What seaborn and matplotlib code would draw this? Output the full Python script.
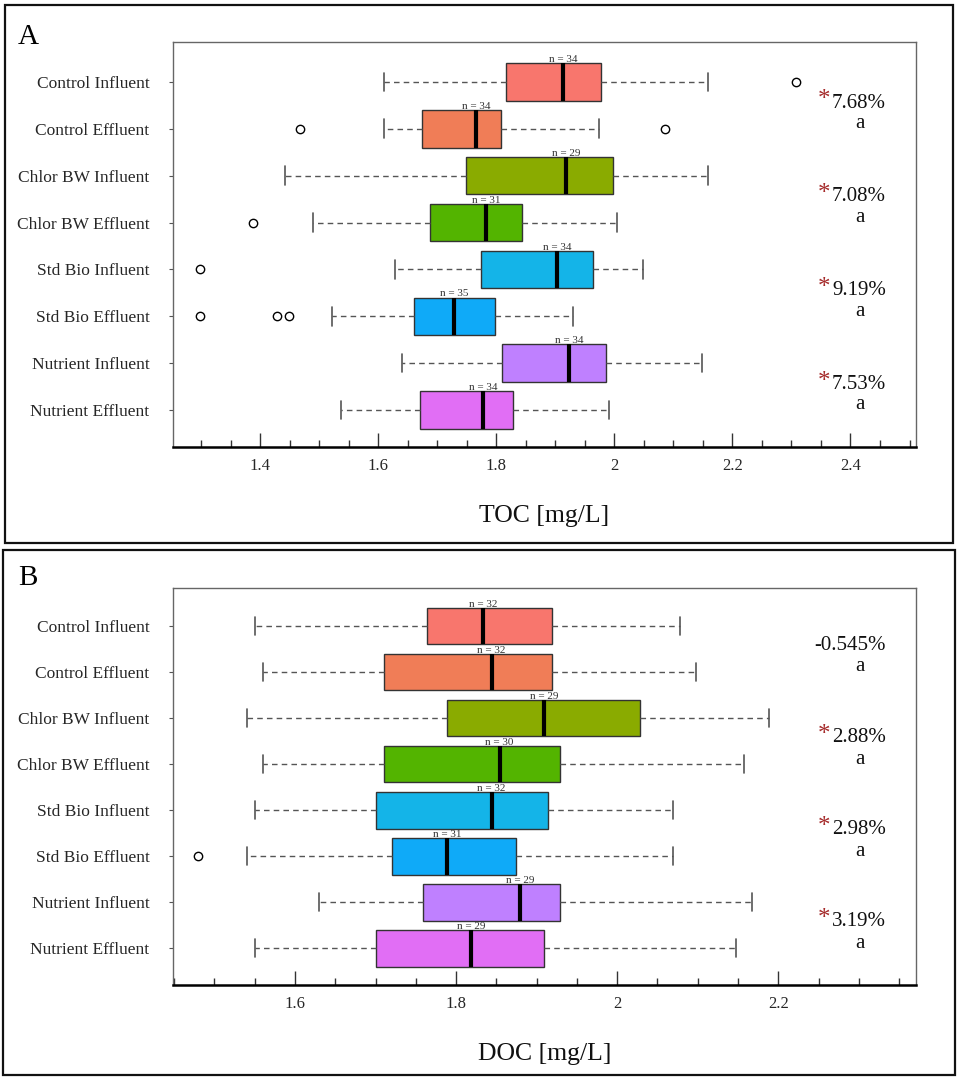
import numpy as np
import pandas as pd
import matplotlib
matplotlib.use("Agg")
import matplotlib.pyplot as plt
from matplotlib.patches import Rectangle
from matplotlib.ticker import MultipleLocator, FormatStrFormatter
import seaborn as sns

# ---------------- data ----------------
categories = ["Control Influent", "Control Effluent", "Chlor BW Influent", "Chlor BW Effluent",
              "Std Bio Influent", "Std Bio Effluent", "Nutrient Influent", "Nutrient Effluent"]
colors = ["#F8766D", "#F07D57", "#8AAB00", "#53B400", "#14B4E8", "#0FAAF8", "#BF80FF", "#E16EF5"]

toc_low = [1.609, 1.609, 1.441, 1.489, 1.628, 1.522, 1.640, 1.537]
toc_q1 = [1.816, 1.674, 1.748, 1.688, 1.774, 1.661, 1.810, 1.671]
toc_med = [1.913, 1.766, 1.918, 1.782, 1.903, 1.728, 1.923, 1.778]
toc_q3 = [1.978, 1.807, 1.998, 1.843, 1.964, 1.797, 1.986, 1.828]
toc_high = [2.158, 1.974, 2.158, 2.004, 2.048, 1.929, 2.148, 1.990]
toc_out = [[2.307], [1.468, 2.085], [], [1.387], [1.298], [1.298, 1.428, 1.448], [], []]
toc_n = [34, 34, 29, 31, 34, 35, 34, 34]
toc_pct = ["7.68%", "7.08%", "9.19%", "7.53%"]
toc_sig = [True, True, True, True]

doc_low = [1.550, 1.560, 1.540, 1.560, 1.550, 1.540, 1.630, 1.550]
doc_q1 = [1.764, 1.710, 1.789, 1.710, 1.700, 1.720, 1.759, 1.700]
doc_med = [1.834, 1.844, 1.909, 1.854, 1.844, 1.789, 1.879, 1.819]
doc_q3 = [1.919, 1.919, 2.028, 1.929, 1.914, 1.874, 1.929, 1.909]
doc_high = [2.078, 2.098, 2.188, 2.158, 2.069, 2.069, 2.168, 2.148]
doc_out = [[], [], [], [], [], [1.480], [], []]
doc_n = [32, 32, 29, 30, 32, 31, 29, 29]
doc_pct = ["-0.545%", "2.88%", "2.98%", "3.19%"]
doc_sig = [False, True, True, True]

toc_ticks = ["1.4", "1.6", "1.8", "2", "2.2", "2.4"]
doc_ticks = ["1.6", "1.8", "2", "2.2"]


def build_table(low, q1, med, q3, high, outs):
    """Table whose quartiles / whiskers reproduce the read five-number summaries."""
    S = 20
    rows = []
    for c, lo, a, m, b, hi, o in zip(categories, low, q1, med, q3, high, outs):
        lo_out = sorted(v for v in o if v < a)
        hi_out = sorted(v for v in o if v > b)
        below = lo_out + [lo] + [a] * (S - 1 - len(lo_out))
        above = [b] * (S - 1 - len(hi_out)) + [hi] + hi_out
        for v in below + [m] + above:
            rows.append((c, v))
    return pd.DataFrame(rows, columns=["cat", "value"])


sns.set_style("ticks")
plt.rcParams["font.family"] = ["Liberation Serif", "DejaVu Serif"]
plt.rcParams["mathtext.fontset"] = "stix"

W, H = 957, 1078
fig = plt.figure(figsize=(W / 100, H / 100), dpi=100)

# panel frames
for (x0, y0, x1, y1) in [(5, 5, 953, 543), (3, 550, 955, 1075)]:
    fig.patches.append(Rectangle((x0 / W, 1 - y1 / H), (x1 - x0) / W, (y1 - y0) / H,
                                 transform=fig.transFigure, fill=False,
                                 edgecolor="#111111", linewidth=1.6))

panels = [
    dict(letter="A", box=(173, 42, 916, 447), xlim=(1.252, 2.511), ylim=(7.79, -0.853),
         data=(toc_low, toc_q1, toc_med, toc_q3, toc_high, toc_out), n=toc_n,
         pct=toc_pct, sig=toc_sig, xlabel="TOC [mg/L]", ticks=toc_ticks,
         letter_y=37, ypct=0.45, ya=0.89),
    dict(letter="B", box=(173, 588, 916, 985), xlim=(1.4485, 2.371), ylim=(7.80, -0.826),
         data=(doc_low, doc_q1, doc_med, doc_q3, doc_high, doc_out), n=doc_n,
         pct=doc_pct, sig=doc_sig, xlabel="DOC [mg/L]", ticks=doc_ticks,
         letter_y=578, ypct=0.42, ya=0.89),
]

for p in panels:
    x0, y0, x1, y1 = p["box"]
    ax = fig.add_axes([x0 / W, 1 - y1 / H, (x1 - x0) / W, (y1 - y0) / H])
    df = build_table(*p["data"])
    sns.boxplot(data=df, x="value", y="cat", hue="cat", order=categories, hue_order=categories,
                palette=colors, saturation=1, orient="h", width=0.8, whis=1.5, dodge=False,
                legend=False, linecolor="#333333", linewidth=1.0, fliersize=6, ax=ax,
                medianprops=dict(color="black", linewidth=3),
                whiskerprops=dict(color="#555555", linestyle=(0, (4, 3)), linewidth=1.0),
                capprops=dict(color="#555555", linewidth=1.2),
                flierprops=dict(marker="o", markerfacecolor="white", markeredgecolor="black",
                                markeredgewidth=1.0))
    ax.set_xlim(*p["xlim"])
    ax.set_ylim(*p["ylim"])
    ax.set_ylabel("")
    ax.set_xlabel(p["xlabel"], fontsize=18.5, labelpad=22, color="#111111")
    ax.xaxis.set_major_locator(MultipleLocator(0.2))
    ax.xaxis.set_minor_locator(MultipleLocator(0.05))
    ax.xaxis.set_major_formatter(FormatStrFormatter("%g"))
    ax.tick_params(axis="x", which="major", direction="in", length=10, width=1.0,
                   color="#333333", labelsize=12, pad=8)
    ax.tick_params(axis="x", which="minor", direction="in", length=5, width=1.0, color="#333333")
    ax.tick_params(axis="y", direction="out", length=3, width=0.8, color="#555555",
                   labelsize=12.5, pad=14)
    for side in ["left", "top", "right"]:
        ax.spines[side].set_color("#666666")
        ax.spines[side].set_linewidth(1.0)
    ax.spines["bottom"].set_color("black")
    ax.spines["bottom"].set_linewidth(1.8)

    # sample sizes above each box
    for i, (m, n) in enumerate(zip(p["data"][2], p["n"])):
        ax.text(m, i - 0.38, f"n = {n}", ha="center", va="bottom", fontsize=8, color="#333333")

    # percent change annotations
    tr = ax.get_yaxis_transform()
    for k, (pct, sig) in enumerate(zip(p["pct"], p["sig"])):
        t = ax.text(0.9596, 2 * k + p["ypct"], pct, transform=tr, ha="right", va="center",
                    fontsize=15, color="#111111")
        ax.text(0.9246, 2 * k + p["ya"], "a", transform=tr, ha="center", va="center",
                fontsize=15, color="#111111")
        if sig:
            ax.annotate("*", xy=(0, 1), xycoords=t, xytext=(-1, 3), textcoords="offset points",
                        ha="right", va="top", fontsize=18, color="#A52A2A")

    fig.text(18 / W, 1 - p["letter_y"] / H, p["letter"], ha="left", va="center",
             fontsize=21, color="black")

fig.savefig("out.png", dpi=100)
